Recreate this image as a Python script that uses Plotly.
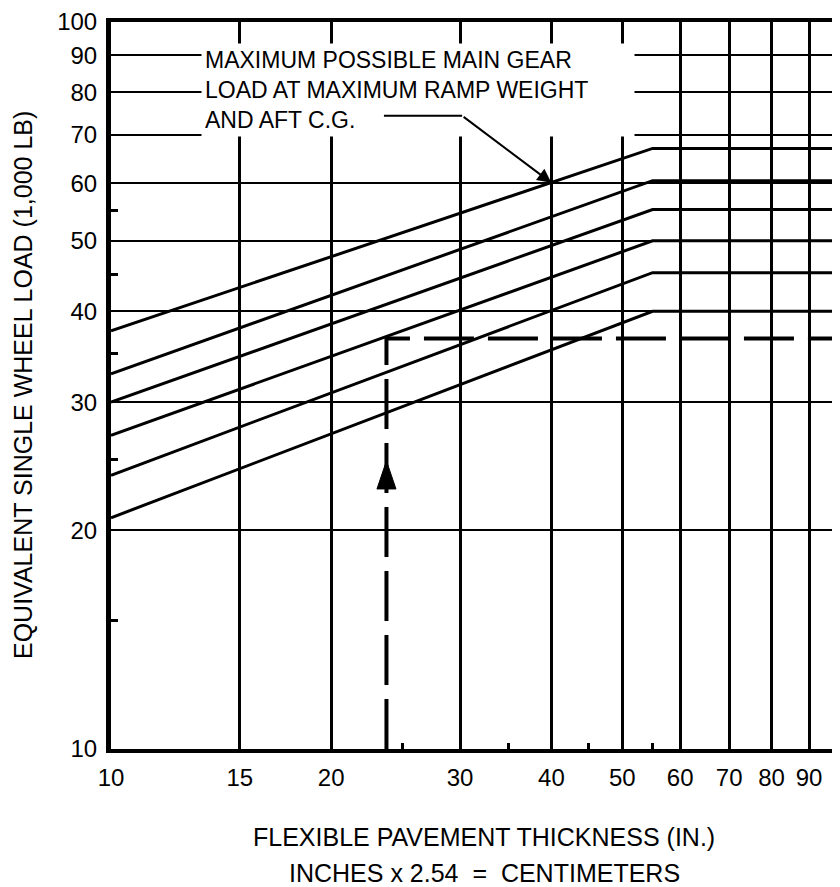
import plotly.graph_objects as go
import numpy as np

# axis ticks (log scales)
x_ticks = [10, 15, 20, 30, 40, 50, 60, 70, 80, 90]
y_ticks = [10, 20, 30, 40, 50, 60, 70, 80, 90, 100]
x_minor = [25, 35, 45, 55]
y_minor = [15, 25, 35, 45, 55]

# ESWL curves: sloped from 10 in. to the break, then flat
thickness_start = 10
thickness_break = 55
thickness_end = 100
load_at_start = [37.6, 32.8, 30, 27, 23.8, 20.8]
load_at_break = [67, 60.5, 55.2, 50, 45.2, 40]

# worked example (dashed)
example_thickness = 23.8
example_load = 36.7
example_arrow_load = 24.9

# leader from the note to the top curve
leader_x = [23.5, 30.2, 40]
leader_y = [74.3, 74.3, 60.1]

fig = go.Figure()

for a, b in zip(load_at_start, load_at_break):
    fig.add_trace(go.Scatter(
        x=[thickness_start, thickness_break, thickness_end],
        y=[a, b, b],
        mode='lines',
        line=dict(color='black', width=3),
        hoverinfo='skip'
    ))

fig.add_trace(go.Scatter(
    x=[example_thickness, example_thickness, thickness_end],
    y=[y_ticks[0], example_load, example_load],
    mode='lines',
    line=dict(color='black', width=4, dash='50px,14px'),
    hoverinfo='skip'
))

# arrowhead on the dashed vertical
fig.add_shape(
    type='path', xref='x', yref='y',
    xsizemode='pixel', ysizemode='pixel',
    xanchor=example_thickness, yanchor=example_arrow_load,
    path='M0,0 L-9.5,-28 L9.5,-28 Z',
    fillcolor='black', line=dict(color='black', width=1),
    layer='above'
)

# note box (white box breaks the grid behind it)
fig.add_annotation(
    xref='paper', yref='paper', x=0.1235, y=0.9712,
    xanchor='left', yanchor='top', align='left', width=426,
    text='MAXIMUM POSSIBLE MAIN GEAR<br>LOAD AT MAXIMUM RAMP WEIGHT<br>AND AFT C.G.',
    showarrow=False, bgcolor='white', borderpad=3,
    font=dict(size=23)
)

# leader line
fig.add_annotation(
    xref='x', yref='y', axref='x', ayref='y',
    x=np.log10(leader_x[1]), y=np.log10(leader_y[1]),
    ax=np.log10(leader_x[0]), ay=np.log10(leader_y[0]),
    text='', showarrow=True, arrowhead=0, arrowwidth=2, arrowcolor='black'
)
fig.add_annotation(
    xref='x', yref='y', axref='x', ayref='y',
    x=np.log10(leader_x[2]), y=np.log10(leader_y[2]),
    ax=np.log10(leader_x[1]), ay=np.log10(leader_y[1]),
    text='', showarrow=True, arrowhead=2, arrowsize=1.4, arrowwidth=2, arrowcolor='black'
)

# axis titles
fig.add_annotation(
    xref='paper', yref='paper', x=0.5117, y=-0.1207,
    xanchor='center', yanchor='middle',
    text='FLEXIBLE PAVEMENT THICKNESS (IN.)', showarrow=False, font=dict(size=25)
)
fig.add_annotation(
    xref='paper', yref='paper', x=0.5117, y=-0.1701,
    xanchor='center', yanchor='middle',
    text='INCHES x 2.54\u00a0 =\u00a0 CENTIMETERS', showarrow=False, font=dict(size=25)
)
fig.add_annotation(
    xref='paper', yref='paper', x=-0.1207, y=0.5007, textangle=-90,
    xanchor='center', yanchor='middle',
    text='EQUIVALENT SINGLE WHEEL LOAD (1,000 LB)', showarrow=False, font=dict(size=25)
)

fig.update_layout(
    width=832, height=879,
    margin=dict(l=103, r=0, t=12, b=138),
    paper_bgcolor='white', plot_bgcolor='white',
    showlegend=False,
    font=dict(family='Liberation Sans, Arial, sans-serif', size=24, color='black')
)

fig.update_xaxes(
    type='log', range=[1, 1.9966],
    tickvals=x_ticks, ticktext=[str(v) for v in x_ticks],
    showgrid=True, gridcolor='black', gridwidth=2.5,
    showline=True, linecolor='black', linewidth=4, mirror=True,
    ticks='', zeroline=False, ticklabelstandoff=4, ticklabeloverflow='allow',
    minor=dict(tickvals=x_minor, ticks='inside', ticklen=6, tickwidth=3,
               tickcolor='black', showgrid=False)
)
fig.update_yaxes(
    type='log', range=[1, 2],
    tickvals=y_ticks, ticktext=[str(v) for v in y_ticks],
    showgrid=True, gridcolor='black', gridwidth=2,
    showline=True, linecolor='black', linewidth=5,
    ticks='', zeroline=False, ticklabelstandoff=4, ticklabeloverflow='allow',
    minor=dict(tickvals=y_minor, ticks='inside', ticklen=7, tickwidth=3,
               tickcolor='black', showgrid=False)
)

fig.write_html("out.html")
